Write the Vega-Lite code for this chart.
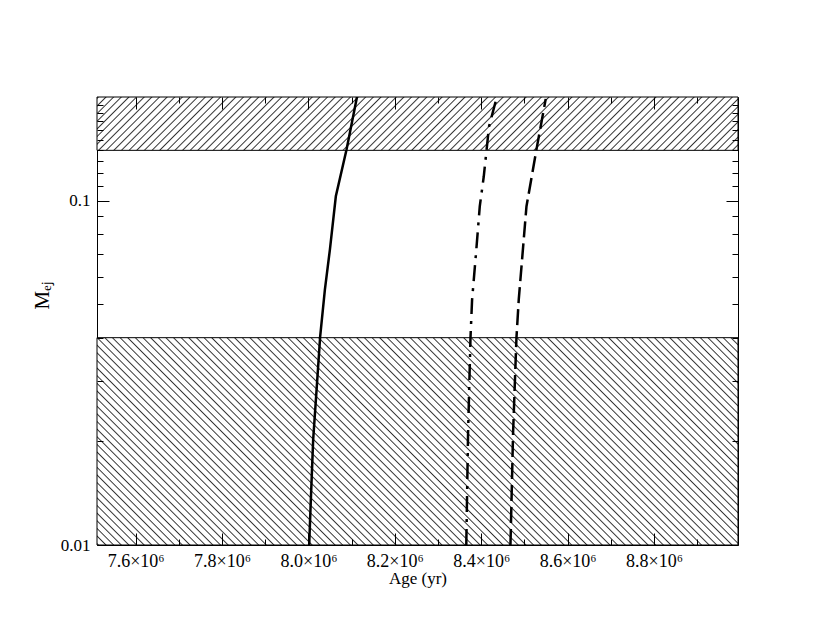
{
"$schema": "https://vega.github.io/schema/vega-lite/v6.json",
"width": 641, "height": 448,
"autosize": "none",
"padding": {"left": 97, "top": 97, "right": 92, "bottom": 97},
"background": "white",
"config": {
  "view": {"stroke": "#000", "strokeWidth": 1},
  "axis": {"grid": false, "labelFont": "Liberation Serif", "titleFont": "Liberation Serif", "labelColor": "#000", "titleColor": "#000", "titleFontWeight": "normal", "tickColor": "#000", "domainColor": "#000", "labelFlush": false}
},
"datasets": {
  "bands": [
    {"band": "upper", "age_min": 7510500, "age_max": 8994400, "lo": 0.14, "hi": 0.2},
    {"band": "lower", "age_min": 7510500, "age_max": 8994400, "lo": 0.01, "hi": 0.04}
  ],
  "curves": [
    {"model": "solid", "age": 8001700, "mej": 0.01},
    {"model": "solid", "age": 8004900, "mej": 0.0129},
    {"model": "solid", "age": 8010900, "mej": 0.0202},
    {"model": "solid", "age": 8018800, "mej": 0.0282},
    {"model": "solid", "age": 8027100, "mej": 0.0403},
    {"model": "solid", "age": 8038000, "mej": 0.0551},
    {"model": "solid", "age": 8049600, "mej": 0.072},
    {"model": "solid", "age": 8063400, "mej": 0.103},
    {"model": "solid", "age": 8088200, "mej": 0.1407},
    {"model": "solid", "age": 8112700, "mej": 0.201},
    {"model": "dashdot", "age": 8365400, "mej": 0.01},
    {"model": "dashdot", "age": 8365800, "mej": 0.0108},
    {"model": "dashdot", "age": 8369500, "mej": 0.0211},
    {"model": "dashdot", "age": 8375100, "mej": 0.0399},
    {"model": "dashdot", "age": 8378800, "mej": 0.0515},
    {"model": "dashdot", "age": 8388000, "mej": 0.0706},
    {"model": "dashdot", "age": 8396600, "mej": 0.0962},
    {"model": "dashdot", "age": 8405900, "mej": 0.1177},
    {"model": "dashdot", "age": 8418100, "mej": 0.1644},
    {"model": "dashdot", "age": 8436600, "mej": 0.201},
    {"model": "dashed", "age": 8467600, "mej": 0.01},
    {"model": "dashed", "age": 8468300, "mej": 0.0108},
    {"model": "dashed", "age": 8473700, "mej": 0.0211},
    {"model": "dashed", "age": 8481500, "mej": 0.0399},
    {"model": "dashed", "age": 8486800, "mej": 0.0515},
    {"model": "dashed", "age": 8504700, "mej": 0.0962},
    {"model": "dashed", "age": 8527800, "mej": 0.1407},
    {"model": "dashed", "age": 8549300, "mej": 0.1975}
  ]
},
"resolve": {"axis": {"x": "independent", "y": "independent"}},
"layer": [
  {
    "data": {"name": "bands"},
    "transform": [{"filter": "datum.band == 'upper'"}],
    "mark": {"type": "rect", "stroke": "#000", "strokeWidth": 1, "fill": {"gradient": "linear", "x1": 0, "y1": 0, "x2": 1.0758, "y2": 0.0895, "stops": [
{"offset":0,"color":"#fff"},{"offset":0.002,"color":"#333"},{"offset":0.004,"color":"#fff"},
{"offset":0.011,"color":"#fff"},{"offset":0.013,"color":"#333"},{"offset":0.015,"color":"#fff"},
{"offset":0.022,"color":"#fff"},{"offset":0.024,"color":"#333"},{"offset":0.026,"color":"#fff"},
{"offset":0.033,"color":"#fff"},{"offset":0.035,"color":"#333"},{"offset":0.037,"color":"#fff"},
{"offset":0.044,"color":"#fff"},{"offset":0.046,"color":"#333"},{"offset":0.048,"color":"#fff"},
{"offset":0.055,"color":"#fff"},{"offset":0.057,"color":"#333"},{"offset":0.059,"color":"#fff"},
{"offset":0.066,"color":"#fff"},{"offset":0.068,"color":"#333"},{"offset":0.070,"color":"#fff"},
{"offset":0.077,"color":"#fff"},{"offset":0.079,"color":"#333"},{"offset":0.081,"color":"#fff"},
{"offset":0.088,"color":"#fff"},{"offset":0.090,"color":"#333"},{"offset":0.092,"color":"#fff"},
{"offset":0.099,"color":"#fff"},{"offset":0.101,"color":"#333"},{"offset":0.103,"color":"#fff"},
{"offset":0.110,"color":"#fff"},{"offset":0.112,"color":"#333"},{"offset":0.114,"color":"#fff"},
{"offset":0.121,"color":"#fff"},{"offset":0.123,"color":"#333"},{"offset":0.125,"color":"#fff"},
{"offset":0.132,"color":"#fff"},{"offset":0.134,"color":"#333"},{"offset":0.136,"color":"#fff"},
{"offset":0.143,"color":"#fff"},{"offset":0.145,"color":"#333"},{"offset":0.147,"color":"#fff"},
{"offset":0.154,"color":"#fff"},{"offset":0.156,"color":"#333"},{"offset":0.158,"color":"#fff"},
{"offset":0.165,"color":"#fff"},{"offset":0.167,"color":"#333"},{"offset":0.169,"color":"#fff"},
{"offset":0.176,"color":"#fff"},{"offset":0.178,"color":"#333"},{"offset":0.180,"color":"#fff"},
{"offset":0.187,"color":"#fff"},{"offset":0.189,"color":"#333"},{"offset":0.191,"color":"#fff"},
{"offset":0.198,"color":"#fff"},{"offset":0.200,"color":"#333"},{"offset":0.202,"color":"#fff"},
{"offset":0.209,"color":"#fff"},{"offset":0.211,"color":"#333"},{"offset":0.213,"color":"#fff"},
{"offset":0.220,"color":"#fff"},{"offset":0.222,"color":"#333"},{"offset":0.224,"color":"#fff"},
{"offset":0.231,"color":"#fff"},{"offset":0.233,"color":"#333"},{"offset":0.235,"color":"#fff"},
{"offset":0.242,"color":"#fff"},{"offset":0.244,"color":"#333"},{"offset":0.246,"color":"#fff"},
{"offset":0.253,"color":"#fff"},{"offset":0.255,"color":"#333"},{"offset":0.257,"color":"#fff"},
{"offset":0.264,"color":"#fff"},{"offset":0.266,"color":"#333"},{"offset":0.268,"color":"#fff"},
{"offset":0.275,"color":"#fff"},{"offset":0.277,"color":"#333"},{"offset":0.279,"color":"#fff"},
{"offset":0.286,"color":"#fff"},{"offset":0.288,"color":"#333"},{"offset":0.290,"color":"#fff"},
{"offset":0.297,"color":"#fff"},{"offset":0.299,"color":"#333"},{"offset":0.301,"color":"#fff"},
{"offset":0.308,"color":"#fff"},{"offset":0.310,"color":"#333"},{"offset":0.312,"color":"#fff"},
{"offset":0.319,"color":"#fff"},{"offset":0.321,"color":"#333"},{"offset":0.323,"color":"#fff"},
{"offset":0.330,"color":"#fff"},{"offset":0.332,"color":"#333"},{"offset":0.334,"color":"#fff"},
{"offset":0.341,"color":"#fff"},{"offset":0.343,"color":"#333"},{"offset":0.345,"color":"#fff"},
{"offset":0.352,"color":"#fff"},{"offset":0.354,"color":"#333"},{"offset":0.356,"color":"#fff"},
{"offset":0.363,"color":"#fff"},{"offset":0.365,"color":"#333"},{"offset":0.367,"color":"#fff"},
{"offset":0.374,"color":"#fff"},{"offset":0.376,"color":"#333"},{"offset":0.378,"color":"#fff"},
{"offset":0.385,"color":"#fff"},{"offset":0.387,"color":"#333"},{"offset":0.389,"color":"#fff"},
{"offset":0.396,"color":"#fff"},{"offset":0.398,"color":"#333"},{"offset":0.400,"color":"#fff"},
{"offset":0.407,"color":"#fff"},{"offset":0.409,"color":"#333"},{"offset":0.411,"color":"#fff"},
{"offset":0.418,"color":"#fff"},{"offset":0.420,"color":"#333"},{"offset":0.422,"color":"#fff"},
{"offset":0.429,"color":"#fff"},{"offset":0.431,"color":"#333"},{"offset":0.433,"color":"#fff"},
{"offset":0.440,"color":"#fff"},{"offset":0.442,"color":"#333"},{"offset":0.444,"color":"#fff"},
{"offset":0.451,"color":"#fff"},{"offset":0.453,"color":"#333"},{"offset":0.455,"color":"#fff"},
{"offset":0.462,"color":"#fff"},{"offset":0.464,"color":"#333"},{"offset":0.466,"color":"#fff"},
{"offset":0.473,"color":"#fff"},{"offset":0.475,"color":"#333"},{"offset":0.477,"color":"#fff"},
{"offset":0.484,"color":"#fff"},{"offset":0.486,"color":"#333"},{"offset":0.488,"color":"#fff"},
{"offset":0.495,"color":"#fff"},{"offset":0.497,"color":"#333"},{"offset":0.499,"color":"#fff"},
{"offset":0.506,"color":"#fff"},{"offset":0.508,"color":"#333"},{"offset":0.510,"color":"#fff"},
{"offset":0.517,"color":"#fff"},{"offset":0.519,"color":"#333"},{"offset":0.521,"color":"#fff"},
{"offset":0.528,"color":"#fff"},{"offset":0.530,"color":"#333"},{"offset":0.532,"color":"#fff"},
{"offset":0.539,"color":"#fff"},{"offset":0.541,"color":"#333"},{"offset":0.543,"color":"#fff"},
{"offset":0.550,"color":"#fff"},{"offset":0.552,"color":"#333"},{"offset":0.554,"color":"#fff"},
{"offset":0.561,"color":"#fff"},{"offset":0.563,"color":"#333"},{"offset":0.565,"color":"#fff"},
{"offset":0.572,"color":"#fff"},{"offset":0.574,"color":"#333"},{"offset":0.576,"color":"#fff"},
{"offset":0.583,"color":"#fff"},{"offset":0.585,"color":"#333"},{"offset":0.587,"color":"#fff"},
{"offset":0.594,"color":"#fff"},{"offset":0.596,"color":"#333"},{"offset":0.598,"color":"#fff"},
{"offset":0.605,"color":"#fff"},{"offset":0.607,"color":"#333"},{"offset":0.609,"color":"#fff"},
{"offset":0.616,"color":"#fff"},{"offset":0.618,"color":"#333"},{"offset":0.620,"color":"#fff"},
{"offset":0.627,"color":"#fff"},{"offset":0.629,"color":"#333"},{"offset":0.631,"color":"#fff"},
{"offset":0.638,"color":"#fff"},{"offset":0.640,"color":"#333"},{"offset":0.642,"color":"#fff"},
{"offset":0.649,"color":"#fff"},{"offset":0.651,"color":"#333"},{"offset":0.653,"color":"#fff"},
{"offset":0.660,"color":"#fff"},{"offset":0.662,"color":"#333"},{"offset":0.664,"color":"#fff"},
{"offset":0.671,"color":"#fff"},{"offset":0.673,"color":"#333"},{"offset":0.675,"color":"#fff"},
{"offset":0.682,"color":"#fff"},{"offset":0.684,"color":"#333"},{"offset":0.686,"color":"#fff"},
{"offset":0.693,"color":"#fff"},{"offset":0.695,"color":"#333"},{"offset":0.697,"color":"#fff"},
{"offset":0.704,"color":"#fff"},{"offset":0.706,"color":"#333"},{"offset":0.708,"color":"#fff"},
{"offset":0.715,"color":"#fff"},{"offset":0.717,"color":"#333"},{"offset":0.719,"color":"#fff"},
{"offset":0.726,"color":"#fff"},{"offset":0.728,"color":"#333"},{"offset":0.730,"color":"#fff"},
{"offset":0.737,"color":"#fff"},{"offset":0.739,"color":"#333"},{"offset":0.741,"color":"#fff"},
{"offset":0.748,"color":"#fff"},{"offset":0.750,"color":"#333"},{"offset":0.752,"color":"#fff"},
{"offset":0.759,"color":"#fff"},{"offset":0.761,"color":"#333"},{"offset":0.763,"color":"#fff"},
{"offset":0.770,"color":"#fff"},{"offset":0.772,"color":"#333"},{"offset":0.774,"color":"#fff"},
{"offset":0.781,"color":"#fff"},{"offset":0.783,"color":"#333"},{"offset":0.785,"color":"#fff"},
{"offset":0.792,"color":"#fff"},{"offset":0.794,"color":"#333"},{"offset":0.796,"color":"#fff"},
{"offset":0.803,"color":"#fff"},{"offset":0.805,"color":"#333"},{"offset":0.807,"color":"#fff"},
{"offset":0.814,"color":"#fff"},{"offset":0.816,"color":"#333"},{"offset":0.818,"color":"#fff"},
{"offset":0.825,"color":"#fff"},{"offset":0.827,"color":"#333"},{"offset":0.829,"color":"#fff"},
{"offset":0.836,"color":"#fff"},{"offset":0.838,"color":"#333"},{"offset":0.840,"color":"#fff"},
{"offset":0.847,"color":"#fff"},{"offset":0.849,"color":"#333"},{"offset":0.851,"color":"#fff"},
{"offset":0.858,"color":"#fff"},{"offset":0.860,"color":"#333"},{"offset":0.862,"color":"#fff"},
{"offset":0.869,"color":"#fff"},{"offset":0.871,"color":"#333"},{"offset":0.873,"color":"#fff"},
{"offset":0.880,"color":"#fff"},{"offset":0.882,"color":"#333"},{"offset":0.884,"color":"#fff"},
{"offset":0.891,"color":"#fff"},{"offset":0.893,"color":"#333"},{"offset":0.895,"color":"#fff"},
{"offset":0.902,"color":"#fff"},{"offset":0.904,"color":"#333"},{"offset":0.906,"color":"#fff"},
{"offset":0.913,"color":"#fff"},{"offset":0.915,"color":"#333"},{"offset":0.917,"color":"#fff"},
{"offset":0.924,"color":"#fff"},{"offset":0.926,"color":"#333"},{"offset":0.928,"color":"#fff"},
{"offset":0.935,"color":"#fff"},{"offset":0.937,"color":"#333"},{"offset":0.939,"color":"#fff"},
{"offset":0.946,"color":"#fff"},{"offset":0.948,"color":"#333"},{"offset":0.950,"color":"#fff"},
{"offset":0.957,"color":"#fff"},{"offset":0.959,"color":"#333"},{"offset":0.961,"color":"#fff"},
{"offset":0.968,"color":"#fff"},{"offset":0.970,"color":"#333"},{"offset":0.972,"color":"#fff"},
{"offset":0.979,"color":"#fff"},{"offset":0.981,"color":"#333"},{"offset":0.983,"color":"#fff"},
{"offset":0.990,"color":"#fff"},{"offset":0.992,"color":"#333"},{"offset":0.994,"color":"#fff"},
{"offset":1,"color":"#fff"}
    ]}},
    "encoding": {
      "x": {"field": "age_min", "type": "quantitative", "scale": {"domain": [7510500, 8994400], "nice": false, "zero": false},
        "axis": {"orient": "bottom", "values": [7600000, 7800000, 8000000, 8200000, 8400000, 8600000, 8800000], "labelExpr": "format(datum.value/1000000, '.1f') + '×10⁶'", "ticks": false, "domain": false, "labelFontSize": 18, "labelPadding": 7, "title": "Age (yr)", "titleFontSize": 17, "titlePadding": 0, "offset": 0}},
      "x2": {"field": "age_max"},
      "y": {"field": "lo", "type": "quantitative", "scale": {"type": "log", "domain": [0.01, 0.2], "nice": false},
        "axis": {"orient": "left", "values": [0.01, 0.1], "labelExpr": "datum.value < 0.05 ? '0.01' : '0.1'", "ticks": false, "domain": false, "labelFontSize": 17, "labelPadding": 7, "title": "Mₑⱼ", "titleFontSize": 21, "titleX": -45, "titleY": 198, "titleAngle": -90, "titleBaseline": "bottom", "titleAlign": "center", "offset": 0}},
      "y2": {"field": "hi"}
    }
  },
  {
    "data": {"name": "bands"},
    "transform": [{"filter": "datum.band == 'lower'"}],
    "mark": {"type": "rect", "stroke": "#000", "strokeWidth": 1, "fill": {"gradient": "linear", "x1": 0, "y1": 1, "x2": 1.1981, "y2": 0.6125, "stops": [
{"offset":0,"color":"#fff"},{"offset":0.0016,"color":"#333"},{"offset":0.0032,"color":"#fff"},
{"offset":0.009,"color":"#fff"},{"offset":0.0106,"color":"#333"},{"offset":0.0122,"color":"#fff"},
{"offset":0.018,"color":"#fff"},{"offset":0.0196,"color":"#333"},{"offset":0.0212,"color":"#fff"},
{"offset":0.027,"color":"#fff"},{"offset":0.0286,"color":"#333"},{"offset":0.0302,"color":"#fff"},
{"offset":0.036,"color":"#fff"},{"offset":0.0376,"color":"#333"},{"offset":0.0392,"color":"#fff"},
{"offset":0.045,"color":"#fff"},{"offset":0.0466,"color":"#333"},{"offset":0.0482,"color":"#fff"},
{"offset":0.054,"color":"#fff"},{"offset":0.0556,"color":"#333"},{"offset":0.0572,"color":"#fff"},
{"offset":0.063,"color":"#fff"},{"offset":0.0646,"color":"#333"},{"offset":0.0662,"color":"#fff"},
{"offset":0.072,"color":"#fff"},{"offset":0.0736,"color":"#333"},{"offset":0.0752,"color":"#fff"},
{"offset":0.081,"color":"#fff"},{"offset":0.0826,"color":"#333"},{"offset":0.0842,"color":"#fff"},
{"offset":0.090,"color":"#fff"},{"offset":0.0916,"color":"#333"},{"offset":0.0932,"color":"#fff"},
{"offset":0.099,"color":"#fff"},{"offset":0.1006,"color":"#333"},{"offset":0.1022,"color":"#fff"},
{"offset":0.108,"color":"#fff"},{"offset":0.1096,"color":"#333"},{"offset":0.1112,"color":"#fff"},
{"offset":0.117,"color":"#fff"},{"offset":0.1186,"color":"#333"},{"offset":0.1202,"color":"#fff"},
{"offset":0.126,"color":"#fff"},{"offset":0.1276,"color":"#333"},{"offset":0.1292,"color":"#fff"},
{"offset":0.135,"color":"#fff"},{"offset":0.1366,"color":"#333"},{"offset":0.1382,"color":"#fff"},
{"offset":0.144,"color":"#fff"},{"offset":0.1456,"color":"#333"},{"offset":0.1472,"color":"#fff"},
{"offset":0.153,"color":"#fff"},{"offset":0.1546,"color":"#333"},{"offset":0.1562,"color":"#fff"},
{"offset":0.162,"color":"#fff"},{"offset":0.1636,"color":"#333"},{"offset":0.1652,"color":"#fff"},
{"offset":0.171,"color":"#fff"},{"offset":0.1726,"color":"#333"},{"offset":0.1742,"color":"#fff"},
{"offset":0.180,"color":"#fff"},{"offset":0.1816,"color":"#333"},{"offset":0.1832,"color":"#fff"},
{"offset":0.189,"color":"#fff"},{"offset":0.1906,"color":"#333"},{"offset":0.1922,"color":"#fff"},
{"offset":0.198,"color":"#fff"},{"offset":0.1996,"color":"#333"},{"offset":0.2012,"color":"#fff"},
{"offset":0.207,"color":"#fff"},{"offset":0.2086,"color":"#333"},{"offset":0.2102,"color":"#fff"},
{"offset":0.216,"color":"#fff"},{"offset":0.2176,"color":"#333"},{"offset":0.2192,"color":"#fff"},
{"offset":0.225,"color":"#fff"},{"offset":0.2266,"color":"#333"},{"offset":0.2282,"color":"#fff"},
{"offset":0.234,"color":"#fff"},{"offset":0.2356,"color":"#333"},{"offset":0.2372,"color":"#fff"},
{"offset":0.243,"color":"#fff"},{"offset":0.2446,"color":"#333"},{"offset":0.2462,"color":"#fff"},
{"offset":0.252,"color":"#fff"},{"offset":0.2536,"color":"#333"},{"offset":0.2552,"color":"#fff"},
{"offset":0.261,"color":"#fff"},{"offset":0.2626,"color":"#333"},{"offset":0.2642,"color":"#fff"},
{"offset":0.270,"color":"#fff"},{"offset":0.2716,"color":"#333"},{"offset":0.2732,"color":"#fff"},
{"offset":0.279,"color":"#fff"},{"offset":0.2806,"color":"#333"},{"offset":0.2822,"color":"#fff"},
{"offset":0.288,"color":"#fff"},{"offset":0.2896,"color":"#333"},{"offset":0.2912,"color":"#fff"},
{"offset":0.297,"color":"#fff"},{"offset":0.2986,"color":"#333"},{"offset":0.3002,"color":"#fff"},
{"offset":0.306,"color":"#fff"},{"offset":0.3076,"color":"#333"},{"offset":0.3092,"color":"#fff"},
{"offset":0.315,"color":"#fff"},{"offset":0.3166,"color":"#333"},{"offset":0.3182,"color":"#fff"},
{"offset":0.324,"color":"#fff"},{"offset":0.3256,"color":"#333"},{"offset":0.3272,"color":"#fff"},
{"offset":0.333,"color":"#fff"},{"offset":0.3346,"color":"#333"},{"offset":0.3362,"color":"#fff"},
{"offset":0.342,"color":"#fff"},{"offset":0.3436,"color":"#333"},{"offset":0.3452,"color":"#fff"},
{"offset":0.351,"color":"#fff"},{"offset":0.3526,"color":"#333"},{"offset":0.3542,"color":"#fff"},
{"offset":0.360,"color":"#fff"},{"offset":0.3616,"color":"#333"},{"offset":0.3632,"color":"#fff"},
{"offset":0.369,"color":"#fff"},{"offset":0.3706,"color":"#333"},{"offset":0.3722,"color":"#fff"},
{"offset":0.378,"color":"#fff"},{"offset":0.3796,"color":"#333"},{"offset":0.3812,"color":"#fff"},
{"offset":0.387,"color":"#fff"},{"offset":0.3886,"color":"#333"},{"offset":0.3902,"color":"#fff"},
{"offset":0.396,"color":"#fff"},{"offset":0.3976,"color":"#333"},{"offset":0.3992,"color":"#fff"},
{"offset":0.405,"color":"#fff"},{"offset":0.4066,"color":"#333"},{"offset":0.4082,"color":"#fff"},
{"offset":0.414,"color":"#fff"},{"offset":0.4156,"color":"#333"},{"offset":0.4172,"color":"#fff"},
{"offset":0.423,"color":"#fff"},{"offset":0.4246,"color":"#333"},{"offset":0.4262,"color":"#fff"},
{"offset":0.432,"color":"#fff"},{"offset":0.4336,"color":"#333"},{"offset":0.4352,"color":"#fff"},
{"offset":0.441,"color":"#fff"},{"offset":0.4426,"color":"#333"},{"offset":0.4442,"color":"#fff"},
{"offset":0.450,"color":"#fff"},{"offset":0.4516,"color":"#333"},{"offset":0.4532,"color":"#fff"},
{"offset":0.459,"color":"#fff"},{"offset":0.4606,"color":"#333"},{"offset":0.4622,"color":"#fff"},
{"offset":0.468,"color":"#fff"},{"offset":0.4696,"color":"#333"},{"offset":0.4712,"color":"#fff"},
{"offset":0.477,"color":"#fff"},{"offset":0.4786,"color":"#333"},{"offset":0.4802,"color":"#fff"},
{"offset":0.486,"color":"#fff"},{"offset":0.4876,"color":"#333"},{"offset":0.4892,"color":"#fff"},
{"offset":0.495,"color":"#fff"},{"offset":0.4966,"color":"#333"},{"offset":0.4982,"color":"#fff"},
{"offset":0.504,"color":"#fff"},{"offset":0.5056,"color":"#333"},{"offset":0.5072,"color":"#fff"},
{"offset":0.513,"color":"#fff"},{"offset":0.5146,"color":"#333"},{"offset":0.5162,"color":"#fff"},
{"offset":0.522,"color":"#fff"},{"offset":0.5236,"color":"#333"},{"offset":0.5252,"color":"#fff"},
{"offset":0.531,"color":"#fff"},{"offset":0.5326,"color":"#333"},{"offset":0.5342,"color":"#fff"},
{"offset":0.540,"color":"#fff"},{"offset":0.5416,"color":"#333"},{"offset":0.5432,"color":"#fff"},
{"offset":0.549,"color":"#fff"},{"offset":0.5506,"color":"#333"},{"offset":0.5522,"color":"#fff"},
{"offset":0.558,"color":"#fff"},{"offset":0.5596,"color":"#333"},{"offset":0.5612,"color":"#fff"},
{"offset":0.567,"color":"#fff"},{"offset":0.5686,"color":"#333"},{"offset":0.5702,"color":"#fff"},
{"offset":0.576,"color":"#fff"},{"offset":0.5776,"color":"#333"},{"offset":0.5792,"color":"#fff"},
{"offset":0.585,"color":"#fff"},{"offset":0.5866,"color":"#333"},{"offset":0.5882,"color":"#fff"},
{"offset":0.594,"color":"#fff"},{"offset":0.5956,"color":"#333"},{"offset":0.5972,"color":"#fff"},
{"offset":0.603,"color":"#fff"},{"offset":0.6046,"color":"#333"},{"offset":0.6062,"color":"#fff"},
{"offset":0.612,"color":"#fff"},{"offset":0.6136,"color":"#333"},{"offset":0.6152,"color":"#fff"},
{"offset":0.621,"color":"#fff"},{"offset":0.6226,"color":"#333"},{"offset":0.6242,"color":"#fff"},
{"offset":0.630,"color":"#fff"},{"offset":0.6316,"color":"#333"},{"offset":0.6332,"color":"#fff"},
{"offset":0.639,"color":"#fff"},{"offset":0.6406,"color":"#333"},{"offset":0.6422,"color":"#fff"},
{"offset":0.648,"color":"#fff"},{"offset":0.6496,"color":"#333"},{"offset":0.6512,"color":"#fff"},
{"offset":0.657,"color":"#fff"},{"offset":0.6586,"color":"#333"},{"offset":0.6602,"color":"#fff"},
{"offset":0.666,"color":"#fff"},{"offset":0.6676,"color":"#333"},{"offset":0.6692,"color":"#fff"},
{"offset":0.675,"color":"#fff"},{"offset":0.6766,"color":"#333"},{"offset":0.6782,"color":"#fff"},
{"offset":0.684,"color":"#fff"},{"offset":0.6856,"color":"#333"},{"offset":0.6872,"color":"#fff"},
{"offset":0.693,"color":"#fff"},{"offset":0.6946,"color":"#333"},{"offset":0.6962,"color":"#fff"},
{"offset":0.702,"color":"#fff"},{"offset":0.7036,"color":"#333"},{"offset":0.7052,"color":"#fff"},
{"offset":0.711,"color":"#fff"},{"offset":0.7126,"color":"#333"},{"offset":0.7142,"color":"#fff"},
{"offset":0.720,"color":"#fff"},{"offset":0.7216,"color":"#333"},{"offset":0.7232,"color":"#fff"},
{"offset":0.729,"color":"#fff"},{"offset":0.7306,"color":"#333"},{"offset":0.7322,"color":"#fff"},
{"offset":0.738,"color":"#fff"},{"offset":0.7396,"color":"#333"},{"offset":0.7412,"color":"#fff"},
{"offset":0.747,"color":"#fff"},{"offset":0.7486,"color":"#333"},{"offset":0.7502,"color":"#fff"},
{"offset":0.756,"color":"#fff"},{"offset":0.7576,"color":"#333"},{"offset":0.7592,"color":"#fff"},
{"offset":0.765,"color":"#fff"},{"offset":0.7666,"color":"#333"},{"offset":0.7682,"color":"#fff"},
{"offset":0.774,"color":"#fff"},{"offset":0.7756,"color":"#333"},{"offset":0.7772,"color":"#fff"},
{"offset":0.783,"color":"#fff"},{"offset":0.7846,"color":"#333"},{"offset":0.7862,"color":"#fff"},
{"offset":0.792,"color":"#fff"},{"offset":0.7936,"color":"#333"},{"offset":0.7952,"color":"#fff"},
{"offset":0.801,"color":"#fff"},{"offset":0.8026,"color":"#333"},{"offset":0.8042,"color":"#fff"},
{"offset":0.810,"color":"#fff"},{"offset":0.8116,"color":"#333"},{"offset":0.8132,"color":"#fff"},
{"offset":0.819,"color":"#fff"},{"offset":0.8206,"color":"#333"},{"offset":0.8222,"color":"#fff"},
{"offset":0.828,"color":"#fff"},{"offset":0.8296,"color":"#333"},{"offset":0.8312,"color":"#fff"},
{"offset":0.837,"color":"#fff"},{"offset":0.8386,"color":"#333"},{"offset":0.8402,"color":"#fff"},
{"offset":0.846,"color":"#fff"},{"offset":0.8476,"color":"#333"},{"offset":0.8492,"color":"#fff"},
{"offset":0.855,"color":"#fff"},{"offset":0.8566,"color":"#333"},{"offset":0.8582,"color":"#fff"},
{"offset":0.864,"color":"#fff"},{"offset":0.8656,"color":"#333"},{"offset":0.8672,"color":"#fff"},
{"offset":0.873,"color":"#fff"},{"offset":0.8746,"color":"#333"},{"offset":0.8762,"color":"#fff"},
{"offset":0.882,"color":"#fff"},{"offset":0.8836,"color":"#333"},{"offset":0.8852,"color":"#fff"},
{"offset":0.891,"color":"#fff"},{"offset":0.8926,"color":"#333"},{"offset":0.8942,"color":"#fff"},
{"offset":0.900,"color":"#fff"},{"offset":0.9016,"color":"#333"},{"offset":0.9032,"color":"#fff"},
{"offset":0.909,"color":"#fff"},{"offset":0.9106,"color":"#333"},{"offset":0.9122,"color":"#fff"},
{"offset":0.918,"color":"#fff"},{"offset":0.9196,"color":"#333"},{"offset":0.9212,"color":"#fff"},
{"offset":0.927,"color":"#fff"},{"offset":0.9286,"color":"#333"},{"offset":0.9302,"color":"#fff"},
{"offset":0.936,"color":"#fff"},{"offset":0.9376,"color":"#333"},{"offset":0.9392,"color":"#fff"},
{"offset":0.945,"color":"#fff"},{"offset":0.9466,"color":"#333"},{"offset":0.9482,"color":"#fff"},
{"offset":0.954,"color":"#fff"},{"offset":0.9556,"color":"#333"},{"offset":0.9572,"color":"#fff"},
{"offset":0.963,"color":"#fff"},{"offset":0.9646,"color":"#333"},{"offset":0.9662,"color":"#fff"},
{"offset":0.972,"color":"#fff"},{"offset":0.9736,"color":"#333"},{"offset":0.9752,"color":"#fff"},
{"offset":0.981,"color":"#fff"},{"offset":0.9826,"color":"#333"},{"offset":0.9842,"color":"#fff"},
{"offset":0.990,"color":"#fff"},{"offset":0.9916,"color":"#333"},{"offset":0.9932,"color":"#fff"},
{"offset":1,"color":"#fff"}
    ]}},
    "encoding": {
      "x": {"field": "age_min", "type": "quantitative", "axis": {"orient": "bottom", "values": [7600000, 7800000, 8000000, 8200000, 8400000, 8600000, 8800000], "labels": false, "domain": false, "tickSize": -12, "title": null, "zindex": 1, "offset": 0}},
      "x2": {"field": "age_max"},
      "y": {"field": "lo", "type": "quantitative", "axis": {"orient": "left", "values": [0.01, 0.1], "labels": false, "domain": false, "tickSize": -12, "title": null, "zindex": 1, "offset": 0}},
      "y2": {"field": "hi"}
    }
  },
  {
    "data": {"name": "curves"},
    "transform": [{"filter": "datum.model == 'solid'"}],
    "mark": {"type": "line", "color": "#000", "strokeWidth": 2.5, "clip": true},
    "encoding": {
      "x": {"field": "age", "type": "quantitative", "axis": {"orient": "bottom", "values": [7700000, 7900000, 8100000, 8300000, 8500000, 8700000, 8900000], "labels": false, "domain": false, "tickSize": -6, "title": null, "zindex": 1, "offset": 0}},
      "y": {"field": "mej", "type": "quantitative", "axis": {"orient": "left", "values": [0.02, 0.03, 0.04, 0.05, 0.06, 0.07, 0.08, 0.09, 0.11, 0.12, 0.13, 0.14, 0.15, 0.16, 0.17, 0.18, 0.19], "labels": false, "domain": false, "tickSize": -6, "title": null, "zindex": 1, "offset": 0}},
      "order": {"field": "mej", "type": "quantitative"}
    }
  },
  {
    "data": {"name": "curves"},
    "transform": [{"filter": "datum.model == 'dashdot'"}],
    "mark": {"type": "line", "color": "#000", "strokeWidth": 2.5, "strokeDash": [16, 7, 3, 7], "clip": true},
    "encoding": {
      "x": {"field": "age", "type": "quantitative", "axis": {"orient": "top", "values": [7600000, 7800000, 8000000, 8200000, 8400000, 8600000, 8800000], "labels": false, "domain": false, "tickSize": -12, "title": null, "zindex": 1, "offset": 0}},
      "y": {"field": "mej", "type": "quantitative", "axis": {"orient": "right", "values": [0.01, 0.1], "labels": false, "domain": false, "tickSize": -12, "title": null, "zindex": 1, "offset": 0}},
      "order": {"field": "mej", "type": "quantitative"}
    }
  },
  {
    "data": {"name": "curves"},
    "transform": [{"filter": "datum.model == 'dashed'"}],
    "mark": {"type": "line", "color": "#000", "strokeWidth": 2.5, "strokeDash": [16, 6], "clip": true},
    "encoding": {
      "x": {"field": "age", "type": "quantitative", "axis": {"orient": "top", "values": [7700000, 7900000, 8100000, 8300000, 8500000, 8700000, 8900000], "labels": false, "domain": false, "tickSize": -6, "title": null, "zindex": 1, "offset": 0}},
      "y": {"field": "mej", "type": "quantitative", "axis": {"orient": "right", "values": [0.02, 0.03, 0.04, 0.05, 0.06, 0.07, 0.08, 0.09, 0.11, 0.12, 0.13, 0.14, 0.15, 0.16, 0.17, 0.18, 0.19], "labels": false, "domain": false, "tickSize": -6, "title": null, "zindex": 1, "offset": 0}},
      "order": {"field": "mej", "type": "quantitative"}
    }
  }
]
}
